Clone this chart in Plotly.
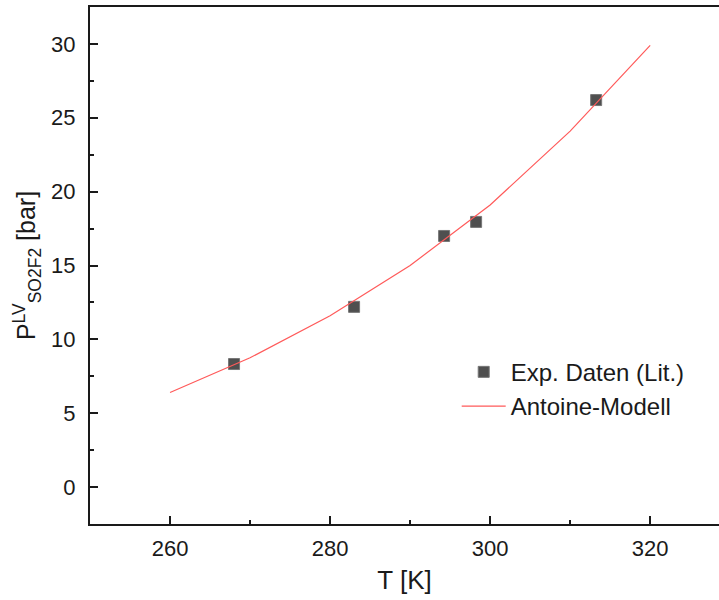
import plotly.graph_objects as go

exp_T = [268.0, 283.0, 294.25, 298.25, 313.25]
exp_P = [8.33, 12.2, 17.0, 17.95, 26.2]
model_T = [260, 270, 280, 290, 300, 310, 320]
model_P = [6.4, 8.75, 11.6, 15.0, 19.1, 24.1, 29.9]

x_ticks = [260, 280, 300, 320]
y_ticks = [0, 5, 10, 15, 20, 25, 30]

font_family = "Liberation Sans, Arial, sans-serif"

fig = go.Figure()
fig.add_trace(go.Scatter(
    x=exp_T, y=exp_P, mode="markers", name="Exp. Daten (Lit.)",
    marker=dict(symbol="square", size=11, color="#4f4f4f",
                line=dict(color="#777777", width=1)),
))
fig.add_trace(go.Scatter(
    x=model_T, y=model_P, mode="lines", name="Antoine-Modell",
    line=dict(color="#ff5a5a", width=1.2),
))

axis_common = dict(
    showgrid=False, zeroline=False, showline=True, linecolor="#1a1a1a",
    linewidth=2, ticks="inside", tickcolor="#1a1a1a", tickwidth=2,
    ticklen=8, tickfont=dict(family=font_family, size=22, color="#1a1a1a"),
)

fig.update_layout(
    width=719, height=600,
    margin=dict(l=90, r=0, t=7, b=76),
    paper_bgcolor="white", plot_bgcolor="white",
    font=dict(family=font_family, color="#1a1a1a"),
    xaxis=dict(
        **axis_common, range=[250, 328.6], tickvals=x_ticks, mirror=True,
        ticklabelstandoff=4,
        minor=dict(ticks="inside", dtick=10, tick0=250, ticklen=4,
                   tickwidth=2, tickcolor="#1a1a1a"),
        title=dict(text="T [K]", font=dict(family=font_family, size=26),
                   standoff=10),
    ),
    yaxis=dict(
        **axis_common, range=[-2.5, 32.5], tickvals=y_ticks, mirror=False,
        ticklabelstandoff=8,
        minor=dict(ticks="inside", dtick=2.5, tick0=0, ticklen=4,
                   tickwidth=2, tickcolor="#1a1a1a"),
        title=dict(text="P<sup>LV</sup><sub>SO2F2</sub> [bar]",
                   font=dict(family=font_family, size=25), standoff=8),
    ),
    legend=dict(
        x=0.583, y=0.337, xanchor="left", yanchor="top",
        bgcolor="rgba(0,0,0,0)", font=dict(family=font_family, size=24),
        tracegroupgap=0, itemwidth=44,
    ),
    showlegend=True,
)

fig.write_html("out.html")
